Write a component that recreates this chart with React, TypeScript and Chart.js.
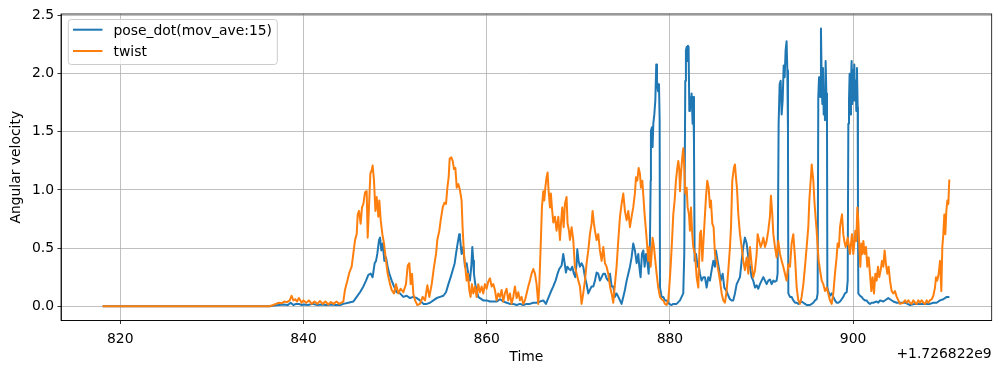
import React, { useEffect, useRef } from "react";
import { Chart, registerables } from "chart.js";

Chart.register(...registerables);

// ---- data (time offset from 1.726822e9, angular velocity) ----
const poseT = [
  818.08, 836.3, 836.8, 837.3, 837.8, 838.3, 838.6, 838.9, 839.2, 839.5, 839.8, 840.1, 840.5, 841.0, 841.5, 842.0, 842.5, 843.0, 843.5, 844.0,
  844.35, 844.9, 845.44, 845.81, 846.17, 846.54, 846.83, 847.08, 847.34, 847.55, 847.77, 847.92, 848.06, 848.25, 848.36, 848.5, 848.65, 848.83, 849.01, 849.19,
  849.37, 849.63, 849.88, 850.17, 850.54, 850.9, 851.27, 851.63, 851.99, 852.36, 852.72, 853.09, 853.45, 853.81, 854.18, 854.54, 854.91, 855.27, 855.56, 855.82,
  856.07, 856.29, 856.51, 856.65, 856.83, 857.0, 857.08, 857.26, 857.44, 857.63, 857.81, 857.99, 858.17, 858.32, 858.43, 858.54, 858.61, 858.75, 858.9, 859.08,
  859.26, 859.63, 859.99, 860.36, 860.72, 861.08, 861.45, 861.81, 862.17, 862.54, 862.9, 863.27, 863.63, 864.0, 864.36, 864.72, 865.09, 865.45, 865.81, 866.18,
  866.47, 866.72, 866.98, 867.27, 867.52, 867.74, 867.92, 868.18, 868.36, 868.51, 868.65, 868.8, 868.98, 869.16, 869.34, 869.52, 869.67, 869.82, 869.89, 870.03,
  870.18, 870.36, 870.54, 870.73, 870.91, 871.09, 871.27, 871.45, 871.64, 871.82, 872.0, 872.18, 872.36, 872.55, 872.73, 872.91, 873.09, 873.27, 873.46, 873.64,
  873.82, 874.0, 874.18, 874.37, 874.55, 874.73, 874.91, 875.09, 875.28, 875.46, 875.64, 875.82, 876.0, 876.18, 876.37, 876.55, 876.66, 876.8, 876.95, 877.1,
  877.24, 877.39, 877.53, 877.68, 877.82, 877.9, 877.93, 878.04, 878.11, 878.19, 878.3, 878.41, 878.51, 878.59, 878.7, 878.81, 878.88, 878.92, 879.1, 879.28,
  879.46, 879.64, 879.93, 880.19, 880.37, 880.73, 881.1, 881.46, 881.57, 881.68, 881.75, 881.83, 881.9, 881.97, 882.04, 882.12, 882.19, 882.3, 882.37, 882.48,
  882.55, 882.63, 882.7, 882.85, 883.03, 883.17, 883.28, 883.46, 883.65, 883.83, 884.01, 884.19, 884.37, 884.56, 884.74, 884.92, 885.03, 885.21, 885.39, 885.54,
  885.76, 885.94, 886.19, 886.38, 886.56, 886.74, 886.92, 887.1, 887.29, 887.47, 887.65, 887.83, 888.01, 888.19, 888.38, 888.56, 888.74, 888.92, 889.1, 889.29,
  889.47, 889.65, 889.83, 890.01, 890.2, 890.38, 890.56, 890.74, 890.92, 891.11, 891.29, 891.47, 891.65, 891.76, 891.87, 891.98, 892.09, 892.2, 892.31, 892.42,
  892.53, 892.63, 892.74, 892.82, 892.89, 892.93, 893.11, 893.29, 893.47, 893.66, 893.84, 894.02, 894.2, 894.38, 894.57, 894.75, 894.93, 895.29, 895.48, 895.66,
  895.84, 896.02, 896.13, 896.2, 896.28, 896.35, 896.42, 896.49, 896.57, 896.64, 896.71, 896.79, 896.86, 896.93, 897.0, 897.08, 897.15, 897.19, 897.29, 897.48,
  897.66, 897.84, 898.02, 898.2, 898.39, 898.57, 898.75, 898.93, 899.11, 899.3, 899.41, 899.48, 899.55, 899.62, 899.7, 899.77, 899.84, 899.92, 899.99, 900.06,
  900.13, 900.21, 900.28, 900.35, 900.42, 900.5, 900.53, 900.57, 900.75, 900.93, 901.12, 901.3, 901.48, 901.66, 901.84, 902.03, 902.21, 902.57, 902.75, 902.94,
  903.3, 903.66, 903.84, 904.03, 904.39, 904.76, 905.12, 905.67, 906.21, 906.76, 907.3, 907.85, 908.39, 908.76, 909.12, 909.49, 909.85, 910.22, 910.51,
];
const poseV = [
  0, 0, 0.005, 0.01, 0.015, 0.01, 0.03, 0.01, 0.02, 0.02, 0.01, 0.015, 0.01, 0.02, 0.01, 0.015, 0.01, 0.015, 0.01, 0.01,
  0.02, 0.03, 0.04, 0.08, 0.12, 0.17, 0.22, 0.27, 0.28, 0.25, 0.37, 0.39, 0.45, 0.57, 0.59, 0.48, 0.54, 0.39, 0.42, 0.34,
  0.28, 0.22, 0.17, 0.12, 0.11, 0.08, 0.09, 0.07, 0.08, 0.07, 0.05, 0.02, 0.02, 0.03, 0.05, 0.07, 0.08, 0.09, 0.12, 0.19,
  0.25, 0.31, 0.37, 0.45, 0.54, 0.62, 0.59, 0.45, 0.51, 0.34, 0.37, 0.28, 0.22, 0.34, 0.51, 0.39, 0.28, 0.19, 0.14, 0.08,
  0.07, 0.05, 0.05, 0.04, 0.04, 0.04, 0.06, 0.04, 0.03, 0.02, 0.02, 0.01, 0.02, 0.01, 0.02, 0.02, 0.03, 0.03, 0.04, 0.05,
  0.02, 0.07, 0.12, 0.17, 0.22, 0.28, 0.32, 0.35, 0.45, 0.37, 0.29, 0.34, 0.32, 0.31, 0.34, 0.28, 0.25, 0.37, 0.49, 0.39,
  0.34, 0.37, 0.34, 0.25, 0.19, 0.11, 0.14, 0.17, 0.17, 0.22, 0.29, 0.28, 0.22, 0.25, 0.28, 0.28, 0.24, 0.22, 0.28, 0.17,
  0.17, 0.08, 0.11, 0.08, 0.05, 0.02, 0.08, 0.14, 0.22, 0.28, 0.34, 0.42, 0.54, 0.48, 0.37, 0.45, 0.34, 0.25, 0.45, 0.48,
  0.34, 0.45, 0.39, 0.28, 0.54, 1.08, 1.51, 1.54, 1.37, 1.57, 1.65, 1.77, 2.08, 1.94, 1.85, 1.91, 1.6, 0.16, 0.08, 0.08,
  0.05, 0.05, 0.02, 0.01, 0.02, 0.02, 0.05, 0.11, 0.45, 1.94, 2.2, 2.23, 2.11, 2.24, 2.23, 1.68, 1.8, 1.71, 1.83, 1.57,
  1.8, 1.4, 0.39, 0.45, 0.34, 0.34, 0.28, 0.22, 0.25, 0.25, 0.16, 0.25, 0.22, 0.31, 0.39, 0.34, 0.48, 0.39, 0.31, 0.22,
  0.28, 0.16, 0.13, 0.09, 0.06, 0.05, 0.05, 0.11, 0.19, 0.22, 0.25, 0.39, 0.51, 0.59, 0.54, 0.42, 0.34, 0.25, 0.22, 0.16,
  0.18, 0.15, 0.19, 0.22, 0.25, 0.22, 0.19, 0.22, 0.23, 0.19, 0.22, 0.21, 0.22, 0.28, 1.57, 1.91, 1.94, 1.65, 1.77, 2.07,
  1.97, 2.2, 2.28, 2.03, 1.51, 0.11, 0.08, 0.08, 0.05, 0.03, 0.03, 0.02, 0.03, 0.04, 0.03, 0.02, 0.01, 0.01, 0.02, 0.03,
  0.05, 0.06, 0.11, 1.8, 1.97, 1.94, 1.8, 2.39, 1.94, 1.74, 2.05, 1.65, 1.85, 1.6, 2.11, 1.83, 1.6, 0.16, 0.13, 0.09,
  0.11, 0.08, 0.05, 0.03, 0.03, 0.04, 0.06, 0.08, 0.11, 0.12, 0.22, 1.57, 1.77, 2.0, 1.65, 1.94, 2.11, 1.74, 2.03, 1.77,
  2.08, 1.77, 1.94, 1.68, 2.05, 1.71, 0.85, 0.11, 0.09, 0.08, 0.06, 0.05, 0.05, 0.03, 0.02, 0.03, 0.03, 0.04, 0.03, 0.05,
  0.04, 0.06, 0.07, 0.06, 0.04, 0.03, 0.03, 0.03, 0.01, 0.02, 0.02, 0.02, 0.02, 0.03, 0.03, 0.05, 0.06, 0.08, 0.08,
];

const twistT = [
  818.08, 836.3, 836.7, 837.0, 837.3, 837.6, 837.9, 838.2, 838.5, 838.7, 838.9, 839.1, 839.3, 839.5, 839.8, 840.0, 840.3, 840.6, 840.9, 841.2,
  841.5, 841.8, 842.1, 842.4, 842.7, 843.0, 843.3, 843.6, 843.9, 844.35, 844.53, 844.79, 845.01, 845.26, 845.44, 845.63, 845.81, 845.92, 846.06, 846.24,
  846.39, 846.54, 846.72, 846.9, 847.01, 847.15, 847.3, 847.45, 847.55, 847.7, 847.85, 847.99, 848.17, 848.28, 848.43, 848.61, 848.79, 849.01, 849.19, 849.45,
  849.63, 849.88, 850.1, 850.36, 850.61, 850.9, 851.19, 851.38, 851.56, 851.7, 851.85, 851.99, 852.18, 852.43, 852.72, 853.01, 853.27, 853.52, 853.74, 854.0,
  854.25, 854.47, 854.61, 854.83, 854.98, 855.2, 855.38, 855.56, 855.71, 855.85, 855.96, 856.14, 856.29, 856.43, 856.58, 856.73, 856.91, 857.08, 857.26, 857.37,
  857.52, 857.66, 857.81, 857.95, 858.1, 858.24, 858.39, 858.54, 858.72, 858.9, 859.08, 859.26, 859.45, 859.63, 859.81, 859.99, 860.17, 860.36, 860.54, 860.72,
  860.9, 861.08, 861.26, 861.45, 861.63, 861.81, 861.99, 862.17, 862.36, 862.54, 862.72, 862.9, 863.08, 863.27, 863.45, 863.63, 863.81, 864.0, 864.18, 864.36,
  864.54, 864.72, 864.9, 865.09, 865.27, 865.45, 865.63, 865.74, 865.89, 866.03, 866.18, 866.29, 866.4, 866.54, 866.65, 866.76, 866.91, 867.01, 867.12, 867.27,
  867.45, 867.63, 867.82, 868.0, 868.11, 868.25, 868.4, 868.54, 868.72, 868.83, 868.98, 869.09, 869.27, 869.45, 869.63, 869.82, 870.0, 870.18, 870.36, 870.54,
  870.73, 870.91, 871.09, 871.27, 871.45, 871.56, 871.71, 871.82, 872.0, 872.18, 872.36, 872.55, 872.73, 872.91, 873.09, 873.27, 873.46, 873.64, 873.82, 874.0,
  874.18, 874.37, 874.55, 874.73, 874.91, 875.09, 875.28, 875.46, 875.64, 875.82, 876.0, 876.18, 876.3, 876.44, 876.59, 876.73, 876.84, 876.99, 877.1, 877.24,
  877.39, 877.53, 877.64, 877.75, 877.9, 878.01, 878.11, 878.26, 878.41, 878.55, 878.73, 878.92, 879.1, 879.28, 879.46, 879.64, 879.82, 879.93, 880.08, 880.23,
  880.37, 880.52, 880.66, 880.81, 880.92, 881.03, 881.1, 881.21, 881.35, 881.46, 881.57, 881.68, 881.83, 881.94, 882.08, 882.19, 882.3, 882.44, 882.55, 882.74,
  882.92, 883.1, 883.28, 883.39, 883.54, 883.65, 883.83, 883.94, 884.08, 884.23, 884.37, 884.48, 884.63, 884.77, 884.92, 885.1, 885.28, 885.47, 885.65, 885.83,
  886.01, 886.19, 886.38, 886.56, 886.67, 886.81, 886.99, 887.1, 887.21, 887.32, 887.47, 887.65, 887.83, 888.01, 888.19, 888.38, 888.56, 888.74, 888.92, 889.1,
  889.29, 889.47, 889.58, 889.76, 889.91, 890.05, 890.2, 890.38, 890.56, 890.74, 890.92, 891.03, 891.18, 891.29, 891.47, 891.65, 891.83, 892.02, 892.2, 892.38,
  892.56, 892.74, 892.93, 893.11, 893.29, 893.47, 893.66, 893.84, 894.02, 894.2, 894.38, 894.57, 894.75, 894.93, 895.11, 895.22, 895.37, 895.48, 895.58, 895.66,
  895.77, 895.88, 896.02, 896.13, 896.24, 896.39, 896.57, 896.75, 896.93, 897.11, 897.29, 897.48, 897.66, 897.84, 898.02, 898.2, 898.31, 898.46, 898.57, 898.68,
  898.79, 898.93, 899.04, 899.19, 899.3, 899.41, 899.55, 899.66, 899.77, 899.88, 900.02, 900.13, 900.24, 900.35, 900.46, 900.57, 900.68, 900.79, 900.9, 901.01,
  901.12, 901.26, 901.41, 901.55, 901.7, 901.84, 901.99, 902.13, 902.28, 902.43, 902.57, 902.72, 902.86, 903.01, 903.15, 903.3, 903.44, 903.59, 903.74, 903.88,
  904.03, 904.21, 904.39, 904.57, 904.76, 904.94, 905.12, 905.48, 905.67, 905.85, 906.03, 906.21, 906.39, 906.57, 906.76, 906.94, 907.12, 907.3, 907.48, 907.67,
  907.85, 908.03, 908.21, 908.39, 908.58, 908.76, 908.94, 909.05, 909.19, 909.34, 909.49, 909.63, 909.74, 909.85, 909.96, 910.07, 910.18, 910.29, 910.4, 910.5,
];
const twistV = [
  0, 0, 0.01, 0.02, 0.03, 0.025, 0.04, 0.035, 0.05, 0.09, 0.05, 0.06, 0.04, 0.07, 0.03, 0.05, 0.03, 0.05, 0.02, 0.04,
  0.02, 0.045, 0.02, 0.04, 0.015, 0.035, 0.02, 0.04, 0.02, 0.04, 0.14, 0.22, 0.29, 0.34, 0.45, 0.57, 0.62, 0.79, 0.82, 0.71,
  0.85, 0.88, 0.98, 0.99, 0.59, 0.85, 1.14, 1.17, 1.21, 1.08, 0.82, 0.94, 0.77, 0.91, 0.74, 0.62, 0.54, 0.39, 0.28, 0.19,
  0.14, 0.11, 0.19, 0.11, 0.15, 0.12, 0.19, 0.35, 0.37, 0.19, 0.28, 0.11, 0.05, 0.01, 0.02, 0.08, 0.05, 0.18, 0.08, 0.19,
  0.34, 0.45, 0.57, 0.65, 0.74, 0.85, 0.89, 0.88, 1.02, 1.11, 1.27, 1.28, 1.25, 1.18, 1.19, 1.02, 1.05, 1.0, 0.91, 0.68,
  0.45, 0.34, 0.22, 0.28, 0.14, 0.08, 0.19, 0.11, 0.17, 0.08, 0.19, 0.12, 0.17, 0.11, 0.19, 0.15, 0.21, 0.24, 0.17, 0.19,
  0.14, 0.05, 0.11, 0.08, 0.14, 0.04, 0.11, 0.15, 0.05, 0.11, 0.02, 0.08, 0.17, 0.07, 0.12, 0.05, 0.08, 0.02, 0.05, 0.11,
  0.17, 0.22, 0.28, 0.32, 0.28, 0.19, 0.02, 0.17, 0.51, 0.85, 0.99, 0.91, 1.02, 1.11, 1.15, 0.99, 0.85, 0.97, 0.85, 0.72,
  0.77, 0.65, 0.77, 0.57, 0.71, 0.85, 0.68, 0.88, 0.94, 0.71, 0.65, 0.57, 0.68, 0.57, 0.34, 0.28, 0.22, 0.17, 0.02, 0.11,
  0.22, 0.37, 0.48, 0.62, 0.71, 0.82, 0.71, 0.65, 0.57, 0.62, 0.48, 0.39, 0.51, 0.37, 0.34, 0.28, 0.17, 0.11, 0.03, 0.19,
  0.34, 0.57, 0.77, 0.88, 0.97, 0.82, 0.74, 0.82, 0.68, 0.77, 0.85, 0.97, 1.11, 1.08, 1.19, 1.14, 1.02, 1.08, 0.95, 0.79,
  0.65, 0.51, 0.39, 0.51, 0.34, 0.45, 0.59, 0.51, 0.39, 0.28, 0.16, 0.08, 0.06, 0.05, 0.02, 0.01, 0.05, 0.16, 0.34, 0.56,
  0.79, 0.91, 1.08, 1.19, 1.25, 1.17, 0.99, 1.14, 1.28, 1.36, 1.19, 0.97, 1.02, 0.85, 0.79, 0.65, 0.85, 0.62, 0.51, 0.45,
  0.25, 0.16, 0.62, 0.65, 0.39, 0.54, 0.79, 0.94, 1.08, 1.02, 0.85, 0.91, 0.71, 0.68, 0.45, 0.39, 0.31, 0.22, 0.11, 0.05,
  0.03, 0.13, 0.31, 0.51, 0.68, 1.08, 1.19, 1.22, 1.11, 1.02, 0.79, 0.62, 0.51, 0.39, 0.31, 0.42, 0.28, 0.51, 0.36, 0.25,
  0.31, 0.45, 0.62, 0.56, 0.51, 0.54, 0.59, 0.51, 0.56, 0.65, 0.77, 0.95, 0.79, 0.62, 0.51, 0.42, 0.56, 0.45, 0.39, 0.34,
  0.28, 0.22, 0.36, 0.34, 0.54, 0.62, 0.42, 0.16, 0.05, 0.02, 0.08, 0.19, 0.34, 0.51, 0.68, 0.91, 1.08, 1.22, 1.14, 1.08,
  0.91, 0.79, 0.65, 0.51, 0.39, 0.31, 0.22, 0.19, 0.13, 0.16, 0.11, 0.05, 0.02, 0.11, 0.28, 0.42, 0.54, 0.51, 0.68, 0.74,
  0.79, 0.62, 0.56, 0.51, 0.54, 0.59, 0.51, 0.45, 0.54, 0.62, 0.45, 0.54, 0.65, 0.56, 0.85, 0.74, 0.51, 0.34, 0.54, 0.45,
  0.56, 0.45, 0.51, 0.34, 0.42, 0.28, 0.13, 0.25, 0.11, 0.28, 0.22, 0.34, 0.25, 0.31, 0.39, 0.34, 0.48, 0.36, 0.28, 0.34,
  0.22, 0.13, 0.11, 0.13, 0.08, 0.05, 0.02, 0.03, 0.05, 0.03, 0.05, 0.03, 0.02, 0.05, 0.03, 0.02, 0.05, 0.03, 0.05, 0.03,
  0.02, 0.05, 0.03, 0.05, 0.06, 0.09, 0.16, 0.25, 0.22, 0.28, 0.39, 0.13, 0.51, 0.62, 0.79, 0.62, 0.82, 0.91, 0.88, 1.09,
];

const seriesLabels = ["pose_dot(mov_ave:15)", "twist"];
const seriesColors = ["#1f77b4", "#ff7f0e"];
const xTicks = [820, 840, 860, 880, 900];
const yTicks = [0, 0.5, 1.0, 1.5, 2.0, 2.5];
const xTitle = "Time";
const yTitle = "Angular velocity";
const offsetText = "+1.726822e9";

const FONT = "'DejaVu Sans', sans-serif";
const FS = 13.9;

export default function App() {
  const ref = useRef<HTMLCanvasElement | null>(null);

  useEffect(() => {
    const canvas = ref.current;
    if (!canvas) return;

    const overlay = {
      id: "mplOverlay",
      afterDraw(chart: any) {
        const { ctx, chartArea: a } = chart;
        ctx.save();
        // full frame (spines)
        ctx.strokeStyle = "#000";
        ctx.lineWidth = 0.8;
        ctx.strokeRect(a.left, a.top, a.right - a.left, a.bottom - a.top);

        // legend box
        const bx = 68.3, by = 19.5, bw = 209, bh = 45, r = 3;
        ctx.beginPath();
        ctx.moveTo(bx + r, by);
        ctx.lineTo(bx + bw - r, by);
        ctx.quadraticCurveTo(bx + bw, by, bx + bw, by + r);
        ctx.lineTo(bx + bw, by + bh - r);
        ctx.quadraticCurveTo(bx + bw, by + bh, bx + bw - r, by + bh);
        ctx.lineTo(bx + r, by + bh);
        ctx.quadraticCurveTo(bx, by + bh, bx, by + bh - r);
        ctx.lineTo(bx, by + r);
        ctx.quadraticCurveTo(bx, by, bx + r, by);
        ctx.closePath();
        ctx.fillStyle = "rgba(255,255,255,0.8)";
        ctx.fill();
        ctx.strokeStyle = "#cccccc";
        ctx.lineWidth = 1;
        ctx.stroke();

        const lineRows = [29.7, 51];
        const textRows = [31, 52];
        ctx.font = `${FS}px ${FONT}`;
        ctx.textBaseline = "middle";
        ctx.textAlign = "left";
        seriesLabels.forEach((lab, i) => {
          ctx.strokeStyle = seriesColors[i];
          ctx.lineWidth = 2;
          ctx.beginPath();
          ctx.moveTo(73, lineRows[i]);
          ctx.lineTo(102.5, lineRows[i]);
          ctx.stroke();
          ctx.fillStyle = "#000";
          ctx.fillText(lab, 113.5, textRows[i]);
        });

        // offset text
        ctx.textAlign = "right";
        ctx.fillText(offsetText, a.right, 354);
        ctx.restore();
      },
    };

    const chart = new Chart(canvas, {
      type: "line",
      data: {
        datasets: [
          {
            label: seriesLabels[0],
            data: poseT.map((t, i) => ({ x: t, y: poseV[i] })),
            borderColor: seriesColors[0],
            borderWidth: 2,
            pointRadius: 0,
            tension: 0,
            fill: false,
            borderJoinStyle: "round",
            order: 2,
          },
          {
            label: seriesLabels[1],
            data: twistT.map((t, i) => ({ x: t, y: twistV[i] })),
            borderColor: seriesColors[1],
            borderWidth: 2,
            pointRadius: 0,
            tension: 0,
            fill: false,
            borderJoinStyle: "round",
            order: 1,
          },
        ],
      },
      options: {
        responsive: false,
        animation: false,
        devicePixelRatio: 1,
        events: [],
        layout: { padding: { top: 14, right: 9.3, left: 0, bottom: 0 } },
        plugins: { legend: { display: false }, tooltip: { enabled: false }, title: { display: false } },
        scales: {
          x: {
            type: "linear",
            min: 813.53,
            max: 915.13,
            afterBuildTicks: (s: any) => {
              s.ticks = xTicks.map((v) => ({ value: v }));
            },
            afterFit: (s: any) => {
              s.height = 52.5;
            },
            ticks: {
              color: "#000",
              font: { family: FONT, size: FS },
              padding: 7.5,
              maxRotation: 0,
              autoSkip: false,
              callback: (v: any) => String(v),
            },
            grid: {
              color: "#b0b0b0",
              lineWidth: 0.8,
              drawTicks: true,
              tickLength: 3.5,
              tickColor: "#000",
              tickWidth: 0.8,
            },
            border: { display: true, color: "#000", width: 0.8 },
            title: {
              display: true,
              text: xTitle,
              color: "#000",
              font: { family: FONT, size: FS },
              padding: { top: 0, bottom: 7.5 },
            },
          },
          y: {
            type: "linear",
            min: -0.123,
            max: 2.514,
            afterBuildTicks: (s: any) => {
              s.ticks = yTicks.map((v) => ({ value: v }));
            },
            afterFit: (s: any) => {
              s.width = 61;
            },
            ticks: {
              color: "#000",
              font: { family: FONT, size: FS },
              padding: 3.5,
              autoSkip: false,
              callback: (v: any) => Number(v).toFixed(1),
            },
            grid: {
              color: "#b0b0b0",
              lineWidth: 0.8,
              drawTicks: true,
              tickLength: 3.5,
              tickColor: "#000",
              tickWidth: 0.8,
            },
            border: { display: true, color: "#000", width: 0.8 },
            title: {
              display: true,
              text: yTitle,
              color: "#000",
              font: { family: FONT, size: FS },
              padding: { top: 8, bottom: 0 },
            },
          },
        },
      },
      plugins: [overlay],
    } as any);

    return () => chart.destroy();
  }, []);

  return (
    <div style={{ position: "absolute", left: 0, top: 0, width: 1001, height: 373, background: "#fff" }}>
      <canvas ref={ref} width={1001} height={373} style={{ display: "block", width: 1001, height: 373 }} />
    </div>
  );
}
